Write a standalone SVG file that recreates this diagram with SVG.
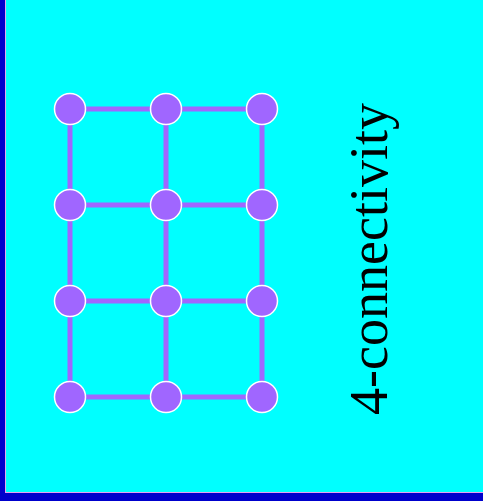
<svg xmlns="http://www.w3.org/2000/svg" width="483" height="501" viewBox="0 0 483 501">
<style>
.e{stroke:#A066FF;stroke-width:5;fill:none}
.n{fill:#A066FF;stroke:#FFFFFF;stroke-width:1.5}
.t{font-family:"Liberation Serif","Times New Roman",serif;font-size:54px;fill:#000}
</style>
<rect x="0" y="0" width="483" height="501" fill="#0000CC"/>
<rect x="5.5" y="-1" width="479" height="493.5" fill="#00FFFF" stroke="#E8A0F0" stroke-width="1"/>
<g id="edges">
<path class="e" d="M70 109H262M70 205H262M70 301H262M70 397H262M70 109V397M166 109V397M262 109V397"/>
</g>
<g id="n00"><circle class="n" cx="70" cy="109" r="15.5"/></g>
<g id="n01"><circle class="n" cx="166" cy="109" r="15.5"/></g>
<g id="n02"><circle class="n" cx="262" cy="109" r="15.5"/></g>
<g id="n10"><circle class="n" cx="70" cy="205" r="15.5"/></g>
<g id="n11"><circle class="n" cx="166" cy="205" r="15.5"/></g>
<g id="n12"><circle class="n" cx="262" cy="205" r="15.5"/></g>
<g id="n20"><circle class="n" cx="70" cy="301" r="15.5"/></g>
<g id="n21"><circle class="n" cx="166" cy="301" r="15.5"/></g>
<g id="n22"><circle class="n" cx="262" cy="301" r="15.5"/></g>
<g id="n30"><circle class="n" cx="70" cy="397" r="15.5"/></g>
<g id="n31"><circle class="n" cx="166" cy="397" r="15.5"/></g>
<g id="n32"><circle class="n" cx="262" cy="397" r="15.5"/></g>
<g id="label"><text class="t" x="387" y="259" text-anchor="middle" transform="rotate(-90 387 259)">4-connectivity</text></g>
</svg>
